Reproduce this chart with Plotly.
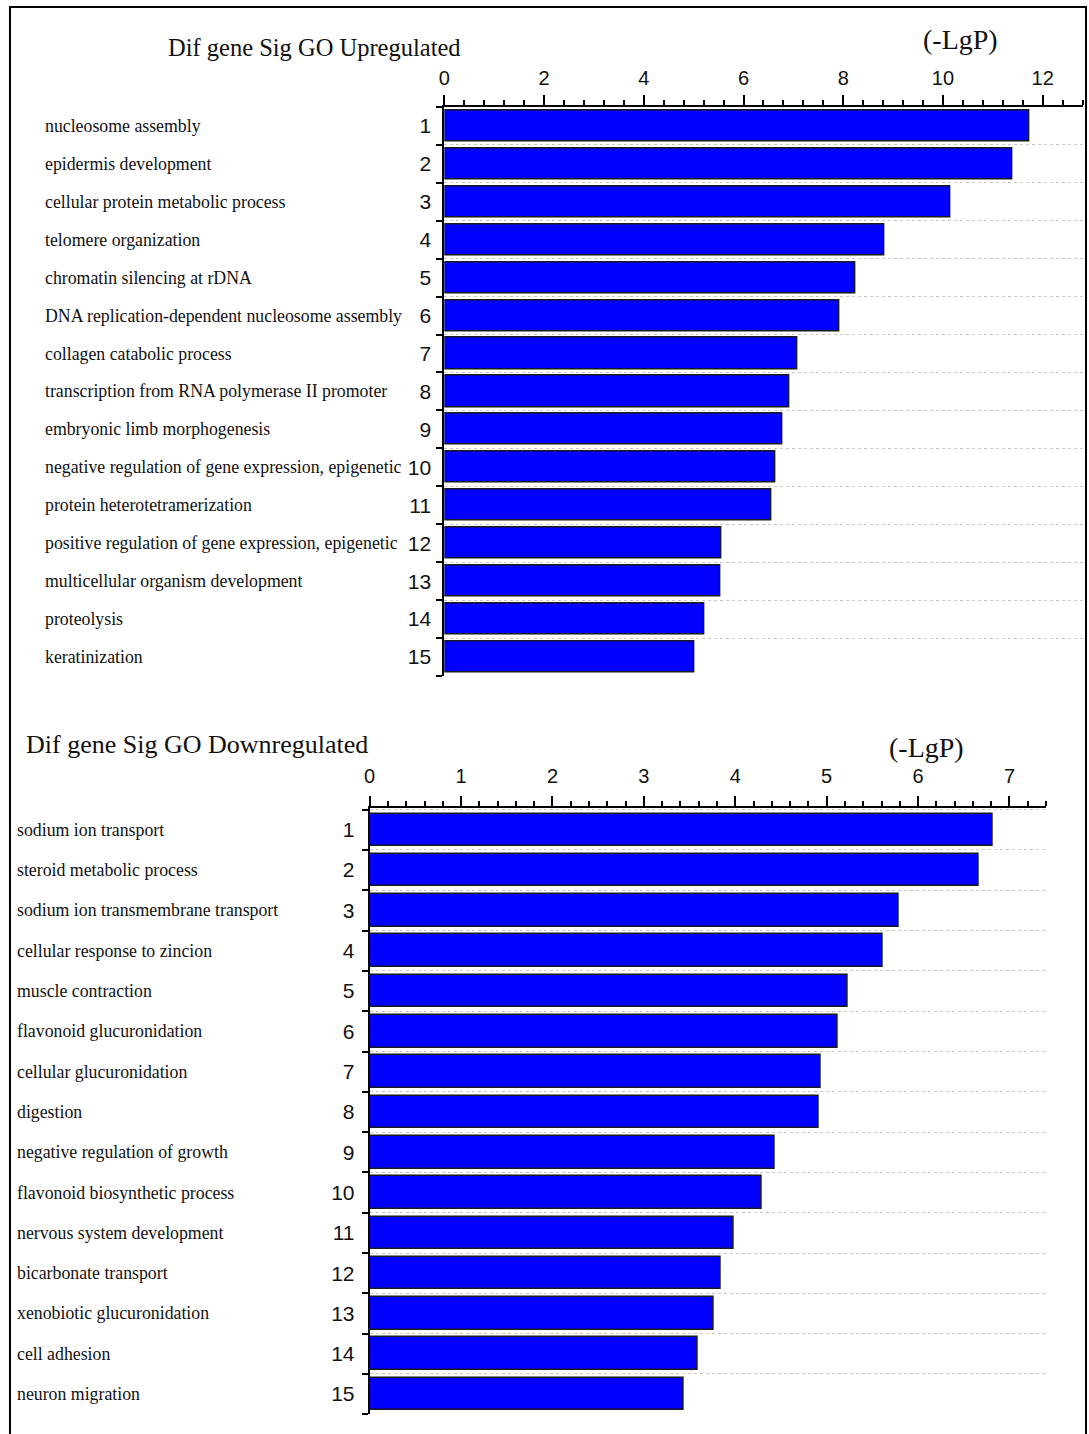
import plotly.graph_objects as go

# ---------------- data ----------------
up_terms = [
    "nucleosome assembly",
    "epidermis development",
    "cellular protein metabolic process",
    "telomere organization",
    "chromatin silencing at rDNA",
    "DNA replication-dependent nucleosome assembly",
    "collagen catabolic process",
    "transcription from RNA polymerase II promoter",
    "embryonic limb morphogenesis",
    "negative regulation of gene expression, epigenetic",
    "protein heterotetramerization",
    "positive regulation of gene expression, epigenetic",
    "multicellular organism development",
    "proteolysis",
    "keratinization",
]
up_values = [11.74, 11.40, 10.15, 8.83, 8.25, 7.92, 7.09, 6.92, 6.78, 6.63,
             6.55, 5.56, 5.53, 5.22, 5.02]

down_terms = [
    "sodium ion transport",
    "steroid metabolic process",
    "sodium ion transmembrane transport",
    "cellular response to zincion",
    "muscle contraction",
    "flavonoid glucuronidation",
    "cellular glucuronidation",
    "digestion",
    "negative regulation of growth",
    "flavonoid biosynthetic process",
    "nervous system development",
    "bicarbonate transport",
    "xenobiotic glucuronidation",
    "cell adhesion",
    "neuron migration",
]
down_values = [6.82, 6.66, 5.79, 5.61, 5.23, 5.12, 4.93, 4.91, 4.43, 4.29,
               3.98, 3.84, 3.76, 3.59, 3.44]

ranks = list(range(1, 16))
rank_labels = [str(r) for r in ranks]

up_title = "Dif gene Sig GO Upregulated"
down_title = "Dif gene Sig GO Downregulated"
axis_unit = "(-LgP)"

# ---------------- styling ----------------
W, H = 1089, 1434
SERIF = "Liberation Serif, Times New Roman, serif"
SANS = "Liberation Sans, Arial, sans-serif"
BLUE = "#0000FF"


def px(x):
    return x / W


def py(y):
    return 1 - y / H


fig = go.Figure()
fig.add_trace(go.Bar(
    x=up_values, y=ranks, orientation="h", width=0.82,
    marker=dict(color=BLUE, line=dict(color="#1a1a1a", width=1.5)),
    xaxis="x", yaxis="y", hoverinfo="x+y"))
fig.add_trace(go.Bar(
    x=down_values, y=ranks, orientation="h", width=0.81,
    marker=dict(color=BLUE, line=dict(color="#1a1a1a", width=1.5)),
    xaxis="x2", yaxis="y2", hoverinfo="x+y"))


def xaxis_cfg(domain, anchor, rng, dtick, mdtick, standoff):
    return dict(
        domain=domain, anchor=anchor, side="top", range=rng,
        tickmode="linear", tick0=0, dtick=dtick,
        ticks="outside", ticklen=10, tickwidth=1.5, tickcolor="black",
        showline=True, linecolor="black", linewidth=2,
        showgrid=False, zeroline=False, fixedrange=True,
        tickfont=dict(family=SANS, size=20, color="#111"),
        ticklabelstandoff=standoff,
        minor=dict(tickmode="linear", tick0=0, dtick=mdtick, ticks="outside",
                   ticklen=5, tickwidth=1.5, tickcolor="black", showgrid=False),
    )


def yaxis_cfg(domain, anchor, rng, standoff):
    return dict(
        domain=domain, anchor=anchor, range=rng,
        tickmode="array", tickvals=ranks, ticktext=rank_labels,
        ticks="", showline=True, linecolor="black", linewidth=2,
        showgrid=False, zeroline=False, fixedrange=True,
        tickfont=dict(family=SANS, size=21, color="#111"),
        ticklabelstandoff=standoff,
        minor=dict(tickmode="linear", tick0=0.5, dtick=1, ticks="outside",
                   ticklen=6, tickwidth=1.5, tickcolor="black",
                   showgrid=True, gridcolor="#c8c8c8", griddash="dot", gridwidth=1),
    )


def yaxis_inner(overlay, anchor, rng):
    # companion axis giving the row-boundary ticks their inner half
    return dict(
        overlaying=overlay, anchor=anchor, side="left", range=rng,
        tickmode="array", tickvals=[], showticklabels=False,
        showline=False, showgrid=False, zeroline=False, fixedrange=True,
        minor=dict(tickmode="linear", tick0=0.5, dtick=1, ticks="inside",
                   ticklen=4, tickwidth=1.5, tickcolor="black", showgrid=False),
    )


up_yrange = [15.5, 0.49]
down_yrange = [15.5, 0.458]

fig.update_layout(
    width=W, height=H,
    margin=dict(l=0, r=0, t=0, b=0),
    paper_bgcolor="white", plot_bgcolor="white",
    showlegend=False, bargap=0,
    xaxis=xaxis_cfg([px(440.8), px(1082.5)], "y", [0, 12.8], 2, 0.4, 2),
    yaxis=yaxis_cfg([py(676.0), py(106.5)], "x", up_yrange, 7),
    xaxis2=xaxis_cfg([px(365.7), px(1045.8)], "y2", [0, 7.4], 1, 0.2, 5),
    yaxis2=yaxis_cfg([py(1414.2), py(808.0)], "x2", down_yrange, 9),
    yaxis3=yaxis_inner("y", "x", up_yrange),
    yaxis4=yaxis_inner("y2", "x2", down_yrange),
)

annotations = []
for term, r in zip(up_terms, ranks):
    annotations.append(dict(
        x=px(37), xref="paper", xanchor="left", y=r, yref="y", yanchor="middle",
        text=term, showarrow=False, font=dict(family=SERIF, size=17.8, color="#111")))
for term, r in zip(down_terms, ranks):
    annotations.append(dict(
        x=px(9), xref="paper", xanchor="left", y=r, yref="y2", yanchor="middle",
        text=term, showarrow=False, font=dict(family=SERIF, size=17.8, color="#111")))

annotations += [
    dict(x=px(161), y=py(48), xref="paper", yref="paper", xanchor="left",
         yanchor="middle", text=up_title, showarrow=False,
         font=dict(family=SERIF, size=24.5, color="#111")),
    dict(x=px(960), y=py(39), xref="paper", yref="paper", xanchor="center",
         yanchor="middle", text=axis_unit, showarrow=False,
         font=dict(family=SERIF, size=28, color="#111")),
    dict(x=px(18), y=py(744), xref="paper", yref="paper", xanchor="left",
         yanchor="middle", text=down_title, showarrow=False,
         font=dict(family=SERIF, size=26, color="#111")),
    dict(x=px(926), y=py(747), xref="paper", yref="paper", xanchor="center",
         yanchor="middle", text=axis_unit, showarrow=False,
         font=dict(family=SERIF, size=28, color="#111")),
]
fig.update_layout(annotations=annotations)

# outer frame
fig.add_shape(type="rect", xref="paper", yref="paper",
              x0=px(4), x1=px(1086), y0=py(1445), y1=py(7),
              line=dict(color="black", width=2), fillcolor="rgba(0,0,0,0)")

fig.write_html(
    "out.html",
    config={"displayModeBar": False},
    post_script="document.body.style.margin='0';document.body.style.overflow='hidden';",
)
